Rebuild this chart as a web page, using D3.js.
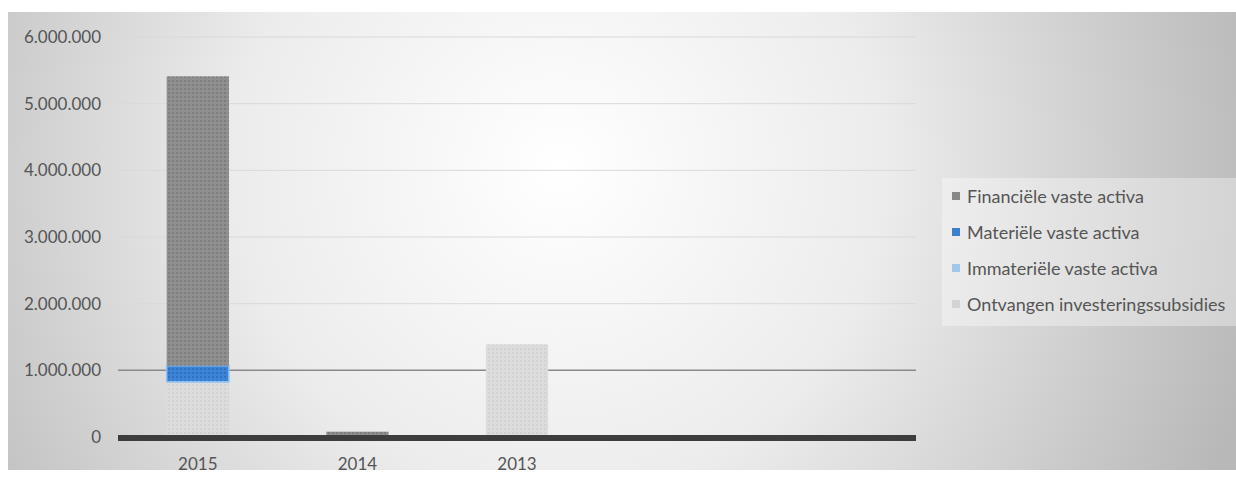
<!DOCTYPE html>
<html><head><meta charset="utf-8">
<script src="https://cdn.jsdelivr.net/npm/d3@7"></script>
<style>body{margin:0;background:#fff}svg{display:block}</style>
</head><body><svg id="c" width="1236" height="481"></svg>
<script>
const categories = ["2015","2014","2013","",""];
const seriesNames = ["Ontvangen investeringssubsidies","Immateriële vaste activa","Materiële vaste activa","Financiële vaste activa"];
const ontvangen   = [810000, 0, 1390000, 0, 0];
const immaterieel = [20000, 0, 0, 0, 0];
const materieel   = [240000, 0, 0, 0, 0];
const financieel  = [4340000, 80000, 0, 0, 0];
const yTicks = [0,1000000,2000000,3000000,4000000,5000000,6000000];
const legendOrder = ["Financiële vaste activa","Materiële vaste activa","Immateriële vaste activa","Ontvangen investeringssubsidies"];
const colors = {
  "Ontvangen investeringssubsidies":"#d3d3d3",
  "Immateriële vaste activa":"#9fc8ec",
  "Materiële vaste activa":"#3b7fce",
  "Financiële vaste activa":"#888888"
};
const FONT = "Lato, 'Open Sans', sans-serif";

const svg = d3.select("#c");
const defs = svg.append("defs");
const rg = defs.append("radialGradient").attr("id","bg").attr("gradientUnits","userSpaceOnUse")
  .attr("cx",560).attr("cy",170).attr("r",720);
rg.append("stop").attr("offset","0").attr("stop-color","#ffffff");
rg.append("stop").attr("offset","0.45").attr("stop-color","#ececec");
rg.append("stop").attr("offset","1").attr("stop-color","#b8b8b8");
svg.append("rect").attr("x",8).attr("y",12).attr("width",1228).attr("height",458).attr("fill","url(#bg)");

function pat(id, base, dot){
  const p = defs.append("pattern").attr("id",id).attr("width",4).attr("height",4).attr("patternUnits","userSpaceOnUse");
  p.append("rect").attr("width",4).attr("height",4).attr("fill",base);
  p.append("rect").attr("x",0).attr("y",0).attr("width",2).attr("height",2).attr("fill",dot);
}
pat("p0","#dcdcdc","#d2d2d2");
pat("p1","#a6cdef","#93bfe6");
pat("p2","#3c84d6","#2f70c0");
pat("p3","#8f8f8f","#7d7d7d");
const fills = ["url(#p0)","url(#p1)","url(#p2)","url(#p3)"];

const x = d3.scaleBand().domain(categories.map((c,i)=>i)).range([118,916]).paddingInner(0.61).paddingOuter(0.305);
const y = d3.scaleLinear().domain([0,6000000]).range([437,37]);

svg.append("g").selectAll("line").data(yTicks.filter(d=>d>0)).join("line")
  .attr("x1",118).attr("x2",916).attr("y1",d=>y(d)).attr("y2",d=>y(d))
  .attr("stroke",d=>d===1000000?"#8a8a8a":"#d9d9d9").attr("stroke-width",d=>d===1000000?1.5:1);

const fmt = v => v===0 ? "0" : d3.format(",")(v).replace(/,/g,".");
const yAxis = d3.axisLeft(y).tickValues(yTicks).tickFormat(fmt).tickSize(0).tickPadding(0);
const ga = svg.append("g").attr("transform","translate(101,0)").call(yAxis);
ga.select(".domain").remove();
ga.selectAll("text").attr("font-family",FONT).attr("font-size",17).attr("fill","#555");

const data = categories.map((c,i)=>({i, s0:ontvangen[i], s1:immaterieel[i], s2:materieel[i], s3:financieel[i]}));
const stack = d3.stack().keys(["s0","s1","s2","s3"]);
const layers = stack(data);
layers.forEach((L,k)=>{
  svg.append("g").selectAll("rect").data(L.filter(d=>d[1]-d[0]>0)).join("rect")
    .attr("x",d=>x(d.data.i)).attr("width",x.bandwidth())
    .attr("y",d=>y(d[1])).attr("height",d=>y(d[0])-y(d[1]))
    .attr("fill",fills[k])
    .attr("stroke",k===2?"#8fc0f0":"none").attr("stroke-width",k===2?1.5:0);
});

svg.append("line").attr("x1",118).attr("x2",916).attr("y1",y(0)+1).attr("y2",y(0)+1)
  .attr("stroke","#3d3d3d").attr("stroke-width",6);

svg.append("g").selectAll("text").data(categories.map((c,i)=>({c,i})).filter(d=>d.c)).join("text")
  .attr("x",d=>x(d.i)+x.bandwidth()/2).attr("y",470).attr("text-anchor","middle")
  .attr("font-family",FONT).attr("font-size",17).attr("fill","#555").text(d=>d.c);

svg.append("rect").attr("x",942).attr("y",178).attr("width",294).attr("height",148)
  .attr("fill","#ffffff").attr("fill-opacity",0.35);
const lg = svg.append("g").selectAll("g").data(legendOrder).join("g")
  .attr("transform",(d,i)=>`translate(952,${203+i*36})`);
lg.append("rect").attr("x",0).attr("y",-11).attr("width",8).attr("height",8).attr("fill",d=>colors[d]);
lg.append("text").attr("x",15).attr("y",0).attr("font-family",FONT)
  .attr("font-size",18).attr("fill","#555").text(d=>d);
</script></body></html>
